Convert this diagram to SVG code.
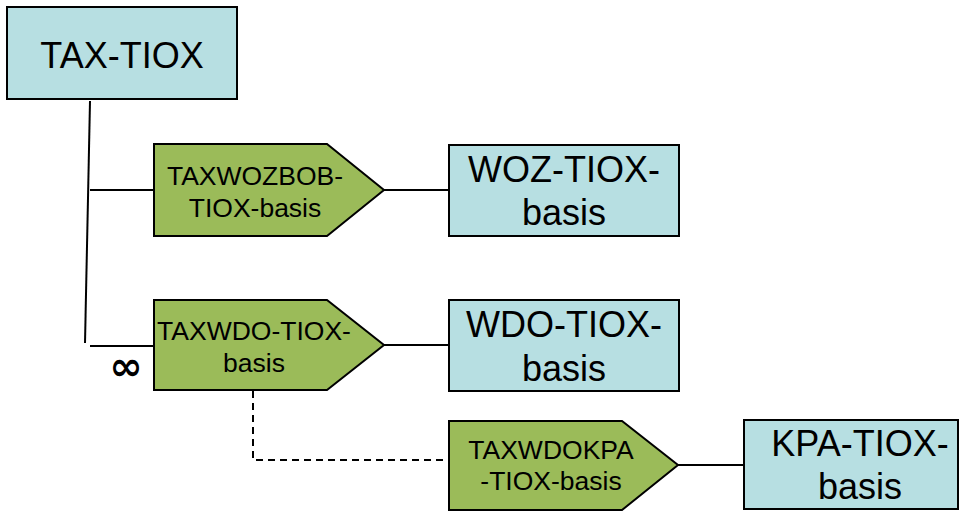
<svg xmlns="http://www.w3.org/2000/svg" width="965" height="511" viewBox="0 0 965 511">
<style>
.ent{fill:#B7DFE2;stroke:#000;stroke-width:2}
.rel{fill:#9BBB59;stroke:#000;stroke-width:2}
.big{font-family:"Liberation Sans",Arial,sans-serif;font-size:36px;fill:#000;text-anchor:middle}
.sm{font-family:"Liberation Sans",Arial,sans-serif;font-size:26.5px;fill:#000;text-anchor:middle}
.ln{stroke:#000;stroke-width:2;fill:none}
.dash{stroke:#000;stroke-width:2;fill:none;stroke-dasharray:7,5}
</style>
<rect width="965" height="511" fill="#fff"/>
<g id="connectors">
<path class="ln" d="M90,101 L85,343"/>
<path class="ln" d="M90,190 L154,190"/>
<path class="ln" d="M90,346 L154,346"/>
<path class="ln" d="M384,190 L449,190"/>
<path class="ln" d="M384,345 L449,345"/>
<path class="dash" d="M253,391 L253,460 L449,460"/>
<path class="ln" d="M678,465 L744,465"/>
<text x="126" y="380" style="font-family:'DejaVu Sans',sans-serif;font-size:40px;font-weight:bold" text-anchor="middle">∞</text>
</g>
<g id="tax-tiox">
<rect class="ent" x="7" y="7" width="230" height="92"/>
<text class="big" x="122" y="68">TAX-TIOX</text>
</g>
<g id="taxwozbob">
<polygon class="rel" points="154,144 327,144 384,190 327,236 154,236"/>
<text class="sm" x="255" y="185">TAXWOZBOB-</text>
<text class="sm" x="255" y="217">TIOX-basis</text>
</g>
<g id="woz">
<rect class="ent" x="449" y="145" width="230" height="91"/>
<text class="big" x="564" y="182">WOZ-TIOX-</text>
<text class="big" x="564" y="225">basis</text>
</g>
<g id="taxwdo">
<polygon class="rel" points="154,300 327,300 384,345 327,390 154,390"/>
<text class="sm" x="254" y="340">TAXWDO-TIOX-</text>
<text class="sm" x="254" y="372">basis</text>
</g>
<g id="wdo">
<rect class="ent" x="449" y="300" width="230" height="91"/>
<text class="big" x="564" y="337">WDO-TIOX-</text>
<text class="big" x="564" y="381">basis</text>
</g>
<g id="taxwdokpa">
<polygon class="rel" points="449,421 622,421 678,465 622,510 449,510"/>
<text class="sm" x="551" y="459">TAXWDOKPA</text>
<text class="sm" x="551" y="490">-TIOX-basis</text>
</g>
<g id="kpa">
<rect class="ent" x="744" y="420" width="214" height="89"/>
<text class="big" x="860" y="456">KPA-TIOX-</text>
<text class="big" x="860" y="499">basis</text>
</g>
</svg>
